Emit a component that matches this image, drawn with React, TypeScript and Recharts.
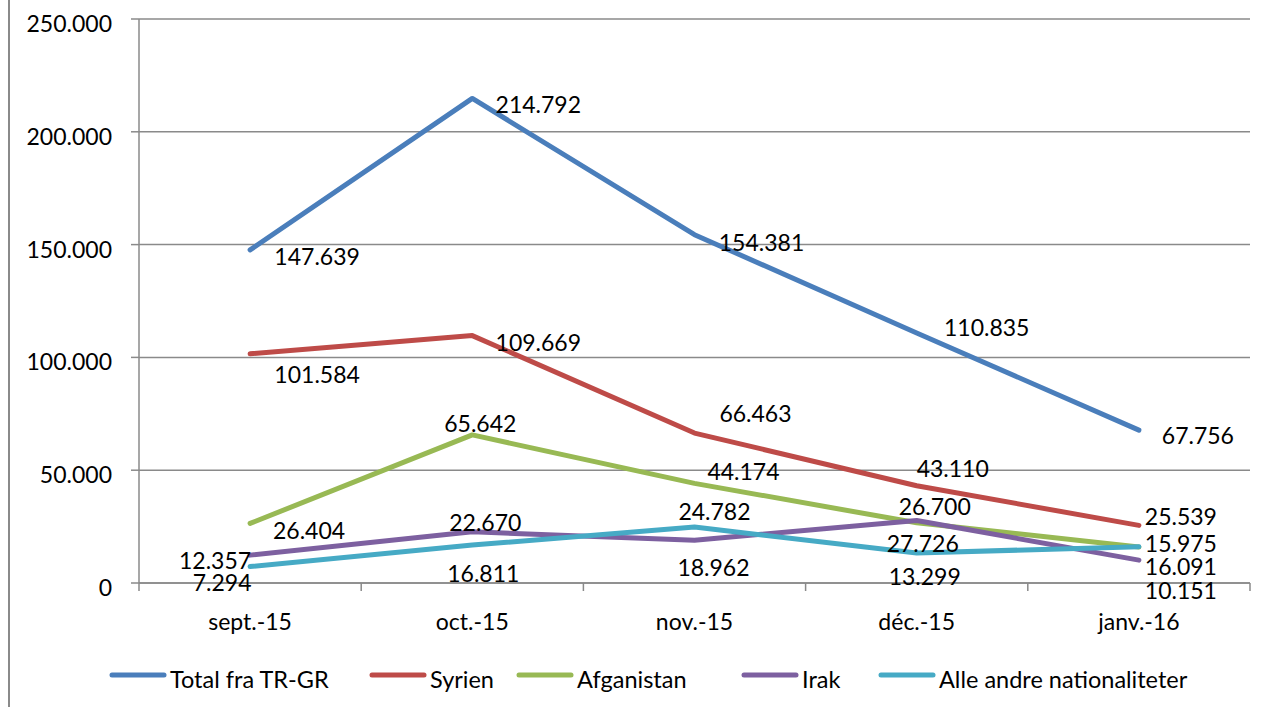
import React from "react";
import { CartesianGrid, LabelList, Legend, Line, LineChart, XAxis, YAxis } from "recharts";

const categories = ["sept.-15", "oct.-15", "nov.-15", "déc.-15", "janv.-16"];
const total = [147639, 214792, 154381, 110835, 67756];
const syrien = [101584, 109669, 66463, 43110, 25539];
const afganistan = [26404, 65642, 44174, 26700, 15975];
const irak = [12357, 22670, 18962, 27726, 10151];
const andre = [7294, 16811, 24782, 13299, 16091];
const yTicks = [0, 50000, 100000, 150000, 200000, 250000];

const W = 1268;
const H = 707;
const PLOT_LEFT = 139;
const PLOT_RIGHT = 1250;
const BAND = (PLOT_RIGHT - PLOT_LEFT) / categories.length;
const FONT = "Lato, 'Open Sans', sans-serif";
const GRID = "#8a8a8a";

const data = categories.map((cat, i) => ({
  cat,
  total: total[i],
  syrien: syrien[i],
  afganistan: afganistan[i],
  irak: irak[i],
  andre: andre[i],
}));

// label text centre relative to the point, as placed in the original
const series = [
  { key: "total", name: "Total fra TR-GR", color: "#4A7EBB", lx: 110, off: [[67, 7], [66, 7], [67, 8], [70, -5], [59, 6]] },
  { key: "syrien", name: "Syrien", color: "#BE4B48", lx: 370, off: [[67, 21], [66, 7], [61, -19], [36, -17], [42, -8]] },
  { key: "afganistan", name: "Afganistan", color: "#98B954", lx: 517, off: [[59, 8], [8, -11], [49, -11], [18, -16], [42, -3]] },
  { key: "irak", name: "Irak", color: "#7D60A0", lx: 742, off: [[-35, 6], [13, -9], [19, 28], [6, 24], [42, 31]] },
  { key: "andre", name: "Alle andre nationaliteter", color: "#46AAC5", lx: 879, off: [[-28, 16], [11, 29], [20, -15], [8, 24], [42, 20]] },
];

const fmt = (v: number) => String(v).replace(/\B(?=(\d{3})+(?!\d))/g, ".");

const XTick = (props: any) => {
  const { x, y, payload, index } = props;
  const left = x - BAND / 2;
  return (
    <g>
      <line x1={left} y1={y} x2={left} y2={y + 8} stroke={GRID} strokeWidth={1.5} />
      {index === categories.length - 1 && (
        <line x1={x + BAND / 2} y1={y} x2={x + BAND / 2} y2={y + 8} stroke={GRID} strokeWidth={1.5} />
      )}
      <text x={x} y={y + 47} textAnchor="middle" fontFamily={FONT} fontSize={23} fill="#000">
        {payload.value}
      </text>
    </g>
  );
};

const YTick = (props: any) => {
  const { x, y, payload } = props;
  return (
    <text x={x} y={y + 13} textAnchor="end" fontFamily={FONT} fontSize={23} fill="#000">
      {fmt(payload.value)}
    </text>
  );
};

const makeLabel = (off: number[][]) => (props: any) => {
  const { x, y, value, index } = props;
  const [dx, dy] = off[index];
  return (
    <text x={x + dx} y={y + dy + 8} textAnchor="middle" fontFamily={FONT} fontSize={23} fill="#000">
      {fmt(value)}
    </text>
  );
};

const LegendBox = () => (
  <svg width={W} height={50} style={{ display: "block" }}>
    {series.map((s) => (
      <g key={s.key}>
        <line x1={s.lx + 2} y1={18} x2={s.lx + 54} y2={18} stroke={s.color} strokeWidth={5} strokeLinecap="round" />
        <text x={s.lx + 60} y={31} fontFamily={FONT} fontSize={23.5} fill="#000">
          {s.name}
        </text>
      </g>
    ))}
  </svg>
);

export default function App() {
  return (
    <div style={{ position: "absolute", left: 0, top: 0, width: W, height: H, background: "#fff", fontFamily: FONT }}>
      <div style={{ position: "absolute", left: 8, top: 0, width: 2, height: H, background: GRID }} />
      <LineChart width={W} height={H} data={data} margin={{ top: 19, right: W - PLOT_RIGHT, left: 0, bottom: 0 }}>
        <CartesianGrid horizontal vertical={false} stroke={GRID} strokeWidth={1.5} />
        <XAxis
          dataKey="cat"
          height={74}
          interval={0}
          padding={{ left: BAND / 2, right: BAND / 2 }}
          tickSize={0}
          tickMargin={0}
          tickLine={false}
          axisLine={{ stroke: GRID, strokeWidth: 1.5 }}
          tick={<XTick />}
        />
        <YAxis
          width={PLOT_LEFT}
          domain={[0, 250000]}
          ticks={yTicks}
          interval={0}
          tickSize={8}
          tickMargin={19}
          axisLine={{ stroke: GRID, strokeWidth: 1.5 }}
          tickLine={{ stroke: GRID, strokeWidth: 1.5 }}
          tick={<YTick />}
        />
        <Legend
          verticalAlign="bottom"
          content={<LegendBox />}
          wrapperStyle={{ left: 0, bottom: 0, width: W, height: 50 }}
        />
        {series.map((s) => (
          <Line
            key={s.key}
            dataKey={s.key}
            name={s.name}
            stroke={s.color}
            strokeWidth={5}
            strokeLinecap="round"
            strokeLinejoin="round"
            dot={false}
            activeDot={false}
            isAnimationActive={false}
          >
            <LabelList dataKey={s.key} content={makeLabel(s.off)} />
          </Line>
        ))}
      </LineChart>
    </div>
  );
}
